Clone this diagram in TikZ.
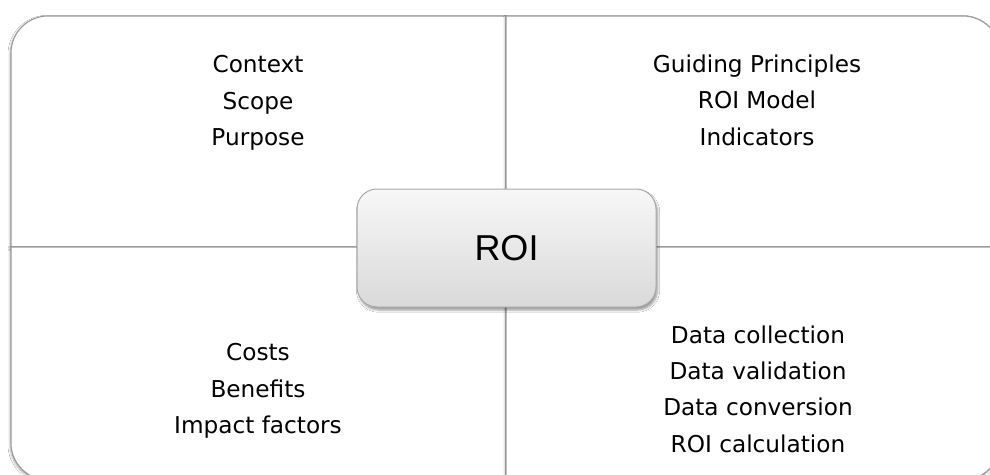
\documentclass[tikz,border=0pt]{standalone}
\usepackage{fontspec}
\setmainfont{DejaVu Sans}
\newfontfamily\roifont{Liberation Sans}
\usetikzlibrary{shadows.blur}
\definecolor{quadline}{HTML}{9A9A9A}
\definecolor{roitop}{HTML}{F7F7F7}
\definecolor{roibot}{HTML}{D9D9D9}
\definecolor{roiline}{HTML}{A8A8A8}
\tikzset{
  quad/.style={fill=white, draw=quadline, line width=1.1pt,
    blur shadow={shadow blur steps=6, shadow xshift=-0.8pt, shadow yshift=-1.5pt, shadow opacity=35}},
  quadtext/.style={align=center, anchor=base, inner sep=0pt,
    font=\fontsize{23.2}{36.3}\selectfont},
  roibox/.style={draw=roiline, line width=1pt, rounded corners=20pt,
    top color=roitop, bottom color=roibot, minimum width=299pt, minimum height=118pt,
    font=\roifont\fontsize{36}{40}\selectfont,
    blur shadow={shadow blur steps=6, shadow xshift=1.5pt, shadow yshift=-3pt, shadow opacity=40}}
}
\begin{document}
\begin{tikzpicture}[x=1pt,y=-1pt]
\useasboundingbox (0,0) rectangle (990,474);
\clip (0,0) rectangle (990,474);
\fill[white] (0,0) rectangle (990,474);
% quadrants
\path[quad] (506,247) -- (11,247) [rounded corners=37pt] -- (11,16) [sharp corners] -- (506,16) -- cycle;
\path[quad] (506,16) [rounded corners=37pt] -- (1000,16) [sharp corners] -- (1000,247) -- (506,247) -- cycle;
\path[quad] (11,247) [rounded corners=37pt] -- (11,480) [sharp corners] -- (506,480) -- (506,247) -- cycle;
\path[quad] (506,247) -- (506,480) [rounded corners=37pt] -- (1000,480) [sharp corners] -- (1000,247) -- cycle;
% texts (anchor base = baseline of last line)
\node[quadtext] (tl) at (258,145.5) {Context\\Scope\\Purpose};
\node[quadtext] (tr) at (757,145) {Guiding Principles\\ROI Model\\Indicators};
\node[quadtext] (bl) at (258,433.5) {Costs\\Benefits\\Impact factors};
\node[quadtext] (br) at (758,452) {Data collection\\Data validation\\Data conversion\\ROI calculation};
% centre
\node[roibox] (roi) at (506.5,248) {ROI};
\end{tikzpicture}
\end{document}
